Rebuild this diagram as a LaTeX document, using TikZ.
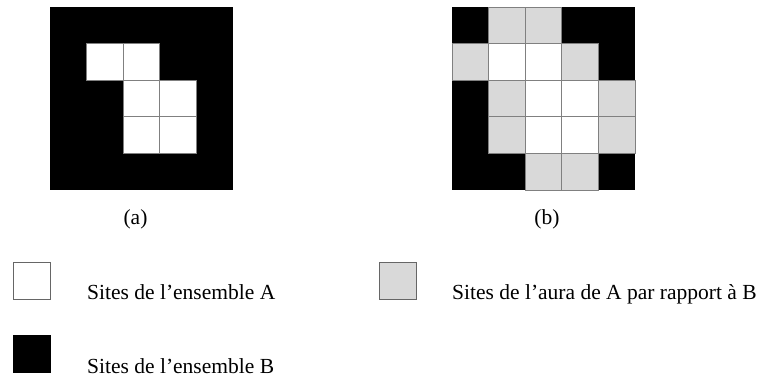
\documentclass[tikz,border=0pt]{standalone}
\usepackage{fontspec}
\setmainfont{Liberation Serif}
\definecolor{auragray}{HTML}{D9D9D9}
\tikzset{
  cellA/.style={fill=white,draw=gray,line width=0.8pt},
  cellG/.style={fill=auragray,draw=gray,line width=0.8pt},
  legbox/.style={draw=gray!80!black,line width=0.8pt,minimum size=37pt,inner sep=0pt,anchor=north west},
  lab/.style={font=\fontsize{21.5}{25}\selectfont,inner sep=0pt},
}
\begin{document}
\begin{tikzpicture}[x=1pt,y=-1pt]
\useasboundingbox (0,0) rectangle (764,384);
% grid (a)
\def\cs{36.6}
\fill[black] (50,7) rectangle ++(183,183);
\foreach \c/\r in {1/1,2/1,2/2,3/2,2/3,3/3}{
  \draw[cellA] (50+\c*\cs,7+\r*\cs) rectangle ++(\cs,\cs);
}
\node[lab,anchor=base] (la) at (135.5,224) {(a)};
% grid (b)
\fill[black] (452,7) rectangle ++(183,183);
\foreach \c/\r in {1/0,2/0,0/1,3/1,1/2,4/2,1/3,4/3,2/4,3/4}{
  \draw[cellG] (452+\c*\cs,7+\r*\cs) rectangle ++(\cs,\cs);
}
\foreach \c/\r in {1/1,2/1,2/2,3/2,2/3,3/3}{
  \draw[cellA] (452+\c*\cs,7+\r*\cs) rectangle ++(\cs,\cs);
}
\node[lab,anchor=base] (lb) at (547,224) {(b)};
% legend
\node[legbox,fill=white] (kA) at (13,262) {};
\node[lab,anchor=base west] (tA) at (87,299) {Sites de l’ensemble A};
\node[legbox,fill=black,draw=none,minimum size=38pt] (kB) at (13,335) {};
\node[lab,anchor=base west] (tB) at (87,373) {Sites de l’ensemble B};
\node[legbox,fill=auragray] (kG) at (379,262) {};
\node[lab,anchor=base west] (tG) at (452,299) {Sites de l’aura de A par rapport à B};
\end{tikzpicture}
\end{document}
